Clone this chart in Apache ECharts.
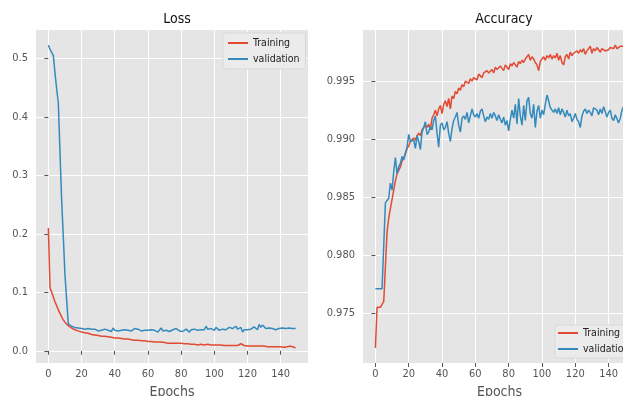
<!DOCTYPE html>
<html>
<head>
<meta charset="utf-8">
<script src="https://cdn.jsdelivr.net/npm/echarts@6/dist/echarts.min.js"></script>
<style>
  html, body { margin: 0; padding: 0; background: #ffffff; }
  #chart { width: 623px; height: 396px; }
</style>
</head>
<body>
<div id="chart"></div>
<script>
// Training history over 150 epochs
const trainLoss = [
  0.210, 0.108, 0.100, 0.092, 0.084, 0.077, 0.070, 0.064, 0.058, 0.053, 0.049, 0.046, 0.043, 0.041, 0.039,
  0.037, 0.036, 0.035, 0.034, 0.033, 0.032, 0.031, 0.031, 0.030, 0.030, 0.029, 0.028, 0.028, 0.027, 0.027,
  0.026, 0.026, 0.025, 0.025, 0.025, 0.024, 0.024, 0.023, 0.023, 0.023, 0.022, 0.022, 0.022, 0.021, 0.021,
  0.021, 0.020, 0.020, 0.020, 0.019, 0.019, 0.019, 0.018, 0.018, 0.018, 0.017, 0.017, 0.017, 0.017, 0.016,
  0.016, 0.016, 0.016, 0.015, 0.015, 0.015, 0.015, 0.014, 0.015, 0.014, 0.014, 0.014, 0.013, 0.014, 0.013,
  0.013, 0.013, 0.012, 0.013, 0.012, 0.013, 0.012, 0.012, 0.011, 0.012, 0.011, 0.011, 0.011, 0.011, 0.010,
  0.010, 0.010, 0.011, 0.010, 0.010, 0.010, 0.011, 0.013, 0.010, 0.010, 0.010, 0.009, 0.010, 0.009, 0.010,
  0.009, 0.009, 0.010, 0.009, 0.009, 0.009, 0.008, 0.009, 0.009, 0.009, 0.010, 0.012, 0.009, 0.009, 0.008,
  0.008, 0.009, 0.008, 0.008, 0.008, 0.008, 0.008, 0.007, 0.008, 0.007, 0.008, 0.007, 0.007, 0.007, 0.007,
  0.007, 0.007, 0.007, 0.007, 0.008, 0.007, 0.007, 0.006, 0.007, 0.007, 0.007, 0.008, 0.007, 0.006, 0.005
];
const valLoss = [
  0.523, 0.516, 0.515, 0.505, 0.475, 0.448, 0.424, 0.340, 0.258, 0.195, 0.130, 0.088, 0.046, 0.043, 0.042,
  0.041, 0.040, 0.041, 0.039, 0.040, 0.038, 0.041, 0.037, 0.039, 0.038, 0.036, 0.037, 0.035, 0.037, 0.036,
  0.034, 0.037, 0.035, 0.036, 0.037, 0.034, 0.035, 0.036, 0.033, 0.039, 0.035, 0.036, 0.034, 0.037, 0.035,
  0.034, 0.036, 0.037, 0.035, 0.033, 0.034, 0.036, 0.038, 0.035, 0.037, 0.036, 0.034, 0.036, 0.035, 0.033,
  0.035, 0.037, 0.036, 0.034, 0.035, 0.036, 0.032, 0.035, 0.039, 0.034, 0.036, 0.035, 0.037, 0.033, 0.035,
  0.036, 0.034, 0.038, 0.035, 0.034, 0.036, 0.033, 0.035, 0.037, 0.034, 0.032, 0.036, 0.035, 0.037, 0.036,
  0.035, 0.037, 0.036, 0.038, 0.036, 0.042, 0.037, 0.035, 0.038, 0.036, 0.035, 0.040, 0.037, 0.035, 0.036,
  0.037, 0.035, 0.036, 0.038, 0.040, 0.043, 0.038, 0.036, 0.042, 0.037, 0.035, 0.040, 0.032, 0.036, 0.038,
  0.036, 0.039, 0.037, 0.036, 0.041, 0.038, 0.036, 0.045, 0.040, 0.044, 0.042, 0.038, 0.037, 0.039, 0.036,
  0.038, 0.040, 0.036, 0.039, 0.038, 0.037, 0.039, 0.040, 0.038, 0.037, 0.039, 0.040, 0.038, 0.039, 0.038
];
const trainAcc = [
  0.9720, 0.9755, 0.9755, 0.9755, 0.9755, 0.9760, 0.9790, 0.9820, 0.9832, 0.9840, 0.9848, 0.9856, 0.9864, 0.9870, 0.9873,
  0.9876, 0.9881, 0.9884, 0.9887, 0.9892, 0.9894, 0.9898, 0.9897, 0.9901, 0.9899, 0.9903, 0.9905, 0.9903, 0.9908, 0.9910,
  0.9912, 0.9910, 0.9913, 0.9908, 0.9918, 0.9921, 0.9925, 0.9920, 0.9926, 0.9929, 0.9922, 0.9930, 0.9933, 0.9928, 0.9935,
  0.9926, 0.9937, 0.9935, 0.9941, 0.9939, 0.9944, 0.9942, 0.9947, 0.9945, 0.9950, 0.9949, 0.9948, 0.9952, 0.9950, 0.9953,
  0.9954, 0.9951, 0.9956, 0.9955, 0.9953, 0.9957, 0.9956, 0.9959, 0.9957, 0.9958, 0.9960, 0.9957, 0.9962, 0.9960, 0.9961,
  0.9963, 0.9961, 0.9959, 0.9964, 0.9962, 0.9960, 0.9965, 0.9963, 0.9966, 0.9964, 0.9962, 0.9967, 0.9965, 0.9968, 0.9966,
  0.9969, 0.9970, 0.9973, 0.9968, 0.9971, 0.9969, 0.9966, 0.9964, 0.9959, 0.9967, 0.9969, 0.9971, 0.9968, 0.9972, 0.9970,
  0.9973, 0.9969, 0.9972, 0.9970, 0.9974, 0.9968, 0.9972, 0.9966, 0.9964, 0.9971, 0.9973, 0.9969, 0.9975, 0.9972, 0.9974,
  0.9973, 0.9976, 0.9974, 0.9977, 0.9975, 0.9978, 0.9973, 0.9976, 0.9977, 0.9980, 0.9974, 0.9978, 0.9976, 0.9979, 0.9977,
  0.9975, 0.9978, 0.9977, 0.9976, 0.9975, 0.9977, 0.9979, 0.9980, 0.9978, 0.9981, 0.9978, 0.9977, 0.9980, 0.9979, 0.9980
];
const valAcc = [
  0.9771, 0.9771, 0.9771, 0.9771, 0.9771, 0.9771, 0.9845, 0.9845, 0.9849, 0.9862, 0.9856, 0.9872, 0.9884, 0.9870, 0.9876,
  0.9879, 0.9885, 0.9882, 0.9888, 0.9893, 0.9904, 0.9898, 0.9897, 0.9899, 0.9892, 0.9903, 0.9898, 0.9891, 0.9906, 0.9910,
  0.9915, 0.9904, 0.9906, 0.9911, 0.9908, 0.9916, 0.9920, 0.9905, 0.9893, 0.9912, 0.9914, 0.9908, 0.9910, 0.9915, 0.9905,
  0.9898, 0.9909, 0.9916, 0.9919, 0.9923, 0.9912, 0.9906, 0.9918, 0.9920, 0.9917, 0.9923, 0.9914, 0.9920, 0.9926, 0.9921,
  0.9919, 0.9922, 0.9918, 0.9924, 0.9926, 0.9920, 0.9915, 0.9919, 0.9917, 0.9922, 0.9918, 0.9923, 0.9920, 0.9916, 0.9921,
  0.9917, 0.9914, 0.9919, 0.9912, 0.9916, 0.9907, 0.9917, 0.9925, 0.9918, 0.9930, 0.9913, 0.9935, 0.9920, 0.9912, 0.9929,
  0.9916, 0.9933, 0.9936, 0.9922, 0.9918, 0.9930, 0.9910, 0.9924, 0.9929, 0.9918, 0.9925, 0.9921, 0.9930, 0.9938, 0.9933,
  0.9927, 0.9928, 0.9923, 0.9926, 0.9922, 0.9927, 0.9921, 0.9926, 0.9923, 0.9919, 0.9925, 0.9920, 0.9922, 0.9915, 0.9918,
  0.9922, 0.9917, 0.9915, 0.9910, 0.9920, 0.9924, 0.9926, 0.9922, 0.9925, 0.9923, 0.9920, 0.9927, 0.9928, 0.9925, 0.9921,
  0.9926, 0.9922, 0.9928, 0.9927, 0.9919, 0.9923, 0.9925, 0.9918, 0.9916, 0.9921, 0.9920, 0.9914, 0.9918, 0.9925, 0.9928
];

const seriesNames = ['Training', 'validation'];
const panelTitles = ['Loss', 'Accuracy'];
const xLabel = 'Epochs';
const epochTicks = [0, 20, 40, 60, 80, 100, 120, 140];
const lossTicks = [0.0, 0.1, 0.2, 0.3, 0.4, 0.5];
const accTicks = [0.975, 0.980, 0.985, 0.990, 0.995];

const RED = '#E24A33';
const BLUE = '#348ABD';
const TICK_GREY = '#555555';
const FONT = "'DejaVu Sans Condensed', 'Liberation Sans Narrow', 'DejaVu Sans', sans-serif";

// pair each value with its epoch index
const withEpochs = arr => arr.map((v, i) => [i, v]);

// matplotlib-style 5% padding around the data range
function padded(lo, hi) {
  const m = (hi - lo) * 0.05;
  return [lo - m, hi + m];
}
const xRange = padded(0, trainLoss.length - 1);
const lossRange = padded(
  Math.min(...trainLoss, ...valLoss), Math.max(...trainLoss, ...valLoss));
const accRange = padded(
  Math.min(...trainAcc, ...valAcc), Math.max(...trainAcc, ...valAcc));

function xAxisFor(gridIndex) {
  return {
    type: 'value', gridIndex,
    min: xRange[0], max: xRange[1],
    name: xLabel, nameLocation: 'middle', nameGap: 21,
    nameTextStyle: { fontFamily: FONT, fontSize: 14, color: TICK_GREY },
    axisLine: { show: false },
    axisTick: { show: true, length: 4, lineStyle: { color: TICK_GREY }, customValues: epochTicks },
    axisLabel: { customValues: epochTicks, color: TICK_GREY, fontFamily: FONT, fontSize: 11, margin: 6 },
    splitLine: { show: true, lineStyle: { color: '#ffffff', width: 1 } }
  };
}
function yAxisFor(gridIndex, range, ticks, digits) {
  return {
    type: 'value', gridIndex,
    min: range[0], max: range[1],
    axisLine: { show: false },
    axisTick: { show: true, length: 4, lineStyle: { color: TICK_GREY }, customValues: ticks },
    axisLabel: {
      customValues: ticks, color: TICK_GREY, fontFamily: FONT, fontSize: 11, margin: 8,
      formatter: v => v.toFixed(digits)
    },
    splitLine: { show: true, lineStyle: { color: '#ffffff', width: 1 } }
  };
}
function lineSeries(name, color, data, idx) {
  return {
    name, type: 'line', xAxisIndex: idx, yAxisIndex: idx,
    data: withEpochs(data), showSymbol: false, symbol: 'none',
    lineStyle: { color, width: 1.5 }, itemStyle: { color },
    animation: false
  };
}
function legendAt(left, top, padding) {
  return {
    data: seriesNames, orient: 'vertical', left, top,
    padding, itemGap: 4, itemWidth: 20, itemHeight: 2, icon: 'rect',
    backgroundColor: '#ebebeb', borderColor: '#d9d9d9', borderWidth: 1, borderRadius: 3,
    textStyle: { fontFamily: FONT, fontSize: 10.5, color: '#222', lineHeight: 12 },
    selectedMode: false
  };
}
function panelGrid(left, width) {
  return {
    left, top: 30, width, height: 333,
    outerBoundsMode: 'none', containLabel: false,
    show: true, backgroundColor: '#E5E5E5', borderWidth: 0
  };
}

const chart = echarts.init(document.getElementById('chart'), null, { renderer: 'canvas' });
chart.setOption({
  backgroundColor: '#ffffff',
  color: [RED, BLUE],
  title: [
    { text: panelTitles[0], left: 172, top: 7, textAlign: 'center',
      textStyle: { fontFamily: FONT, fontSize: 14, fontWeight: 'normal', color: '#111' } },
    { text: panelTitles[1], left: 499, top: 7, textAlign: 'center',
      textStyle: { fontFamily: FONT, fontSize: 14, fontWeight: 'normal', color: '#111' } }
  ],
  grid: [panelGrid(36, 272), panelGrid(363, 273)],
  xAxis: [xAxisFor(0), xAxisFor(1)],
  yAxis: [yAxisFor(0, lossRange, lossTicks, 1), yAxisFor(1, accRange, accTicks, 3)],
  legend: [legendAt(223, 33, [4, 6, 4, 5]), legendAt(555, 325, [2, 6, 3, 3])],
  series: [
    lineSeries(seriesNames[0], RED, trainLoss, 0),
    lineSeries(seriesNames[1], BLUE, valLoss, 0),
    lineSeries(seriesNames[0], RED, trainAcc, 1),
    lineSeries(seriesNames[1], BLUE, valAcc, 1)
  ]
});
</script>
</body>
</html>
